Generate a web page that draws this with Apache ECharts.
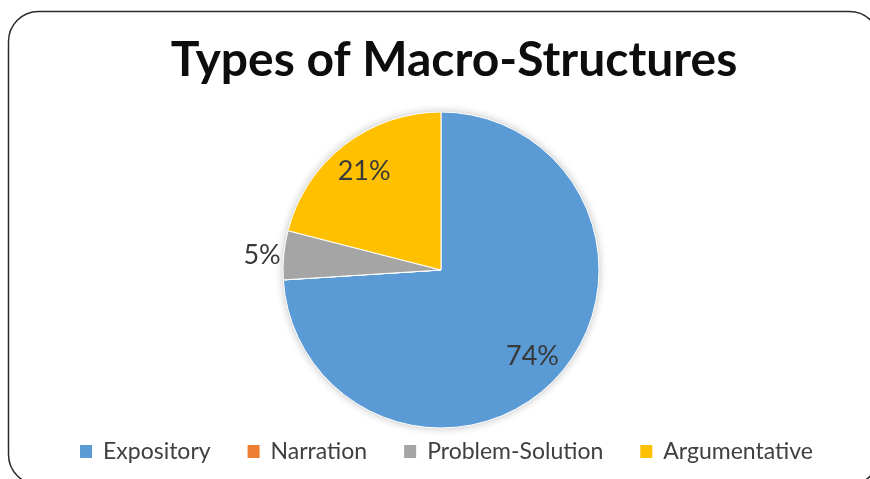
<!DOCTYPE html>
<html>
<head>
<meta charset="utf-8">
<script src="https://cdn.jsdelivr.net/npm/echarts@6/dist/echarts.min.js"></script>
<style>
  html, body { margin: 0; padding: 0; background: #ffffff; }
  #chart { width: 870px; height: 479px; }
</style>
</head>
<body>
<div id="chart"></div>
<script>
// Share of each macro-structure type, in percent
const categories = ['Expository', 'Narration', 'Problem-Solution', 'Argumentative'];
const shares = [74, 0, 5, 21];
const colors = ['#5B9BD5', '#ED7D31', '#A5A5A5', '#FFC000'];
const titleText = 'Types of Macro-Structures';

const FONT = 'Lato, "Open Sans", sans-serif';
const CENTER = [441, 270];
const R = 158;

// Wedges of the pie
const sliceData = categories.map((name, i) => ({
  name,
  value: shares[i],
  itemStyle: { color: colors[i] }
}));

// Label ring: inside labels sit at about three quarters of the radius,
// the thin slice gets its label just outside the rim, an empty slice gets none
const labelData = categories.map((name, i) => {
  const v = shares[i];
  const item = { name, value: v, itemStyle: { color: 'transparent', borderWidth: 0 } };
  if (v === 0) {
    item.label = { show: false };
  } else if (v < 10) {
    item.label = { position: 'outside', distanceToLabelLine: 3 };
    item.labelLine = { show: false, length: 0, length2: 0 };
  }
  return item;
});

const total = shares.reduce((a, b) => a + b, 0);

const chart = echarts.init(document.getElementById('chart'), null, { renderer: 'canvas' });

chart.setOption({
  backgroundColor: '#ffffff',
  animation: false,
  title: {
    text: titleText,
    left: 449,
    top: 32,
    textAlign: 'center',
    textStyle: { fontFamily: FONT, fontWeight: 'bold', fontSize: 48, color: '#0d0d0d' }
  },
  legend: {
    data: categories,
    left: 73,
    top: 435,
    itemWidth: 14,
    itemHeight: 15,
    itemGap: 35,
    icon: 'rect',
    selectedMode: false,
    textStyle: { fontFamily: FONT, fontSize: 23, color: '#404040', padding: [0, 0, 0, 5] }
  },
  graphic: [{
    type: 'rect',
    shape: { x: 8.5, y: 11.5, width: 871, height: 473, r: 30 },
    style: { fill: 'none', stroke: '#2b2b2b', lineWidth: 1.5 },
    z: -1
  }],
  series: [
    {
      // soft shadow disc under the pie
      type: 'pie',
      center: CENTER,
      radius: [0, R],
      silent: true,
      z: 1,
      label: { show: false },
      labelLine: { show: false },
      data: [{ name: '', value: total, itemStyle: { color: '#ffffff', shadowBlur: 8, shadowColor: 'rgba(0,0,0,0.28)' } }]
    },
    {
      type: 'pie',
      center: CENTER,
      radius: [0, R],
      startAngle: 90,
      clockwise: true,
      z: 2,
      avoidLabelOverlap: false,
      label: { show: false },
      labelLine: { show: false },
      itemStyle: { borderColor: '#ffffff', borderWidth: 1 },
      emphasis: { disabled: true },
      data: sliceData
    },
    {
      type: 'pie',
      center: CENTER,
      radius: [R * 0.55, R],
      startAngle: 90,
      clockwise: true,
      silent: true,
      z: 3,
      avoidLabelOverlap: false,
      label: {
        show: true,
        position: 'inside',
        formatter: '{c}%',
        fontFamily: FONT,
        fontSize: 27,
        color: '#383838'
      },
      labelLine: { show: false },
      emphasis: { disabled: true },
      data: labelData
    }
  ]
});
</script>
</body>
</html>
